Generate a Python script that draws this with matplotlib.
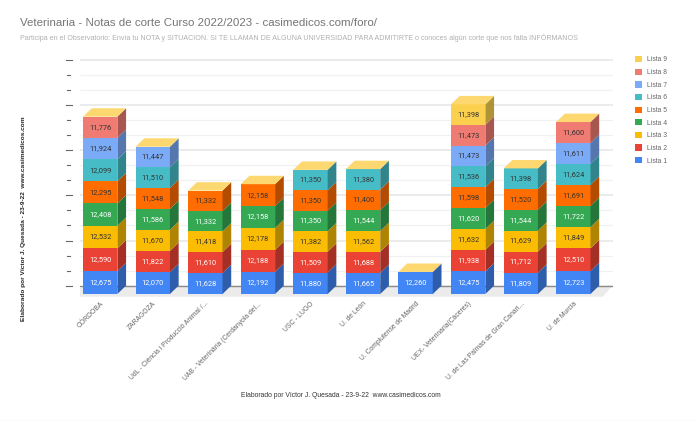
#!/usr/bin/env python3
"""
Stacked pseudo-3D bars of the Veterinaria cut-off marks, one stack per university.
"""
import matplotlib.pyplot as plt
import matplotlib as mpl
from matplotlib.lines import Line2D
from matplotlib.patches import Patch, Polygon
from matplotlib.colors import to_rgb

mpl.rcParams['font.family'] = ['Liberation Sans', 'DejaVu Sans']

universities = [
    'CÓRDOBA', 'ZARAGOZA', 'UdL - Ciència i Producció Animal /...',
    'UAB - Veterinària (Cerdanyola del...', 'USC - LUGO', 'U. de León',
    'U. Complutense de Madrid', 'UEX- Veterinaria(Cáceres)',
    'U. de Las Palmas de Gran Canari...', 'U. de Murcia',
]
lists = ['Lista 1', 'Lista 2', 'Lista 3', 'Lista 4', 'Lista 5', 'Lista 6', 'Lista 7', 'Lista 8', 'Lista 9']
lista1 = [12675, 12070, 11628, 12192, 11880, 11665, 12260, 12475, 11809, 12723]
lista2 = [12590, 11822, 11610, 12188, 11509, 11688, 0, 11938, 11712, 12510]
lista3 = [12532, 11670, 11418, 12178, 11382, 11562, 0, 11632, 11629, 11849]
lista4 = [12408, 11586, 11332, 12158, 11350, 11544, 0, 11620, 11544, 11722]
lista5 = [12295, 11548, 11332, 12158, 11350, 11400, 0, 11598, 11520, 11691]
lista6 = [12099, 11510, 0, 0, 11350, 11380, 0, 11536, 11398, 11624]
lista7 = [11924, 11447, 0, 0, 0, 0, 0, 11473, 0, 11611]
lista8 = [11776, 0, 0, 0, 0, 0, 0, 11473, 0, 11600]
lista9 = [0, 0, 0, 0, 0, 0, 0, 11398, 0, 0]
series = [lista1, lista2, lista3, lista4, lista5, lista6, lista7, lista8, lista9]

colors = ['#4285F4', '#EA4335', '#FBBC04', '#34A853', '#FF6D01', '#46BDC6', '#7BAAF7', '#F07B72', '#FCD04F']
label_colors = ['white', 'white', '#333333', 'white', '#333333', '#333333', '#333333', '#333333', '#333333']
top_color = '#FDD76F'

W, H = 696, 421
BAR_W = 0.654
DEPTH_X = 0.1655   # category units
DEPTH_Y = 4656     # value units
MAJOR = 25000


def shade(color, f=0.7):
    return tuple(c * f for c in to_rgb(color))


def main():
    fig = plt.figure(figsize=(W / 100, H / 100), dpi=100)
    ax = fig.add_axes([80 / W, 1 - 300 / H, 533 / W, 250 / H])
    ax.set_xlim(-0.384, 9.755)
    ax.set_ylim(-3326, 135255)
    for s in ax.spines.values():
        s.set_visible(False)
    ax.set_yticks([])

    # gridlines and tick dashes sit on the back wall
    for k in range(16):
        y = DEPTH_Y + k * MAJOR / 3
        major = k % 3 == 0
        if k > 0:
            ax.hlines(y, -0.384, 9.755, color='#E6E6E6' if major else '#F1F1F1',
                      lw=1.1 if major else 0.9, zorder=1)
        x0, x1 = (-0.656, -0.53) if major else (-0.63, -0.57)
        ax.plot([x0, x1], [y, y], color='#666666', lw=0.8, clip_on=False, zorder=1)

    # floor
    ax.add_patch(Polygon([(-0.59, -1500), (-0.32, DEPTH_Y), (9.75, DEPTH_Y), (9.56, -1500)],
                         closed=True, fc='#EBEBEB', ec='none', zorder=1))
    ax.plot([-0.384, 9.755], [DEPTH_Y, DEPTH_Y], color='#8A8A8A', lw=1.0, zorder=2)

    # stacks
    xs = range(len(universities))
    bottoms = [0] * len(universities)
    for vals, color, lc in zip(series, colors, label_colors):
        bars = ax.bar(xs, vals, BAR_W, bottom=bottoms, color=color, zorder=3)
        ax.bar_label(bars, labels=[f'{v:,}' if v else '' for v in vals], label_type='center',
                     color=lc, fontsize=5.3, family=['Roboto', 'DejaVu Sans'], zorder=5)
        for i, v in enumerate(vals):
            if v:
                r = i + BAR_W / 2
                b = bottoms[i]
                ax.add_patch(Polygon([(r, b), (r + DEPTH_X, b + DEPTH_Y),
                                      (r + DEPTH_X, b + v + DEPTH_Y), (r, b + v)],
                                     closed=True, fc=shade(color), ec='none', zorder=3))
        bottoms = [b + v for b, v in zip(bottoms, vals)]

    # the empty top series still paints the lid
    for i, total in enumerate(bottoms):
        left, right = i - BAR_W / 2, i + BAR_W / 2
        ax.add_patch(Polygon([(left, total), (right, total), (right + DEPTH_X, total + DEPTH_Y),
                              (left + DEPTH_X, total + DEPTH_Y)],
                             closed=True, fc=top_color, ec='none', zorder=3))

    ax.set_xticks(list(xs), universities, rotation=45, ha='right', rotation_mode='anchor',
                  fontsize=4.9, color='#666666')
    ax.tick_params(axis='x', length=0, pad=0.3)

    handles = [Patch(fc=c, ec='none') for c in colors][::-1]
    fig.legend(handles, lists[::-1], loc='upper left', bbox_to_anchor=(635 / W, 1 - 56 / H),
               frameon=False, fontsize=4.9, labelcolor='#666666', handlelength=1.04, handleheight=1.04,
               handletextpad=0.75, labelspacing=0.76, borderpad=0, borderaxespad=0)

    fig.text(20 / W, 1 - 23.5 / H, 'Veterinaria - Notas de corte Curso 2022/2023 - casimedicos.com/foro/',
             fontsize=8.25, color='#757575', va='center')
    fig.text(20 / W, 1 - 38 / H,
             'Participa en el Observatorio: Envía tu NOTA y SITUACION. SI TE LLAMAN DE ALGUNA UNIVERSIDAD '
             'PARA ADMITIRTE o conoces algún corte que nos falta INFÓRMANOS',
             fontsize=5.1, color='#B0B0B0', va='center')
    fig.text(23.5 / W, 1 - 219 / H, 'Elaborado por Víctor J. Quesada - 23-9-22  www.casimedicos.com',
             rotation=90, fontsize=4.65, fontweight='bold', color='#222222', ha='center', va='center')
    fig.text(340.5 / W, 1 - 395.7 / H, 'Elaborado por Víctor J. Quesada - 23-9-22  www.casimedicos.com',
             fontsize=4.9, color='#333333', ha='center', va='center')

    # faint rule along the bottom edge of the page
    fig.add_artist(Line2D([0, 1], [1 - 420.5 / H] * 2, color='#EEEEEE', lw=1))

    fig.savefig('out.png', dpi=100)


if __name__ == '__main__':
    main()
